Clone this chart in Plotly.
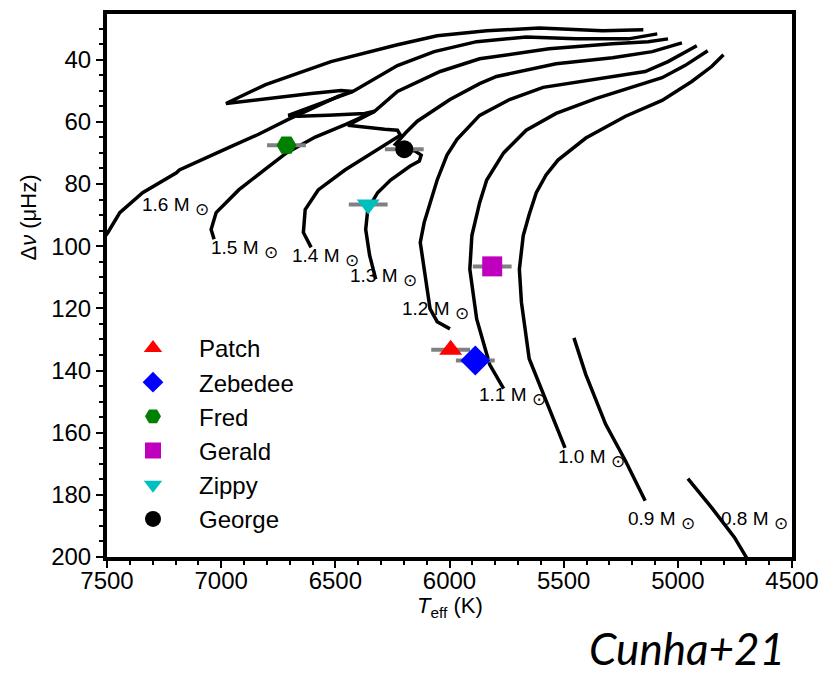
import plotly.graph_objects as go

# Evolutionary tracks: effective temperature (K) and large frequency separation (uHz)
masses = ["1.6", "1.5", "1.4", "1.3", "1.2", "1.1", "1.0", "0.9", "0.8"]

teff_16 = [7539, 7496, 7444, 7344, 7196, 7183, 6953, 6836, 6706, 6575, 6488, 6423,
           6475, 6606, 6805, 6979, 6805, 6519, 6228, 6054, 5837, 5607, 5329, 5151]
dnu_16 = [100.1, 95.6, 89.2, 82.8, 76.4, 75.5, 67.8, 64.0, 59.2, 54.7, 51.8, 50.2,
          49.9, 50.9, 52.5, 54.1, 48.0, 40.6, 35.2, 32.3, 30.7, 29.8, 30.7, 30.4]

teff_15 = [7031, 7044, 7022, 6923, 6805, 6714, 6588, 6454, 6328, 6371, 6532, 6662,
           6706, 6575, 6423, 6228, 6067, 5881, 5664, 5446, 5216, 5090]
dnu_15 = [97.8, 94.6, 89.2, 81.9, 75.1, 70.0, 64.9, 60.8, 56.6, 57.3, 57.9, 58.2,
          57.9, 54.4, 50.2, 41.9, 37.4, 34.2, 32.7, 33.3, 33.3, 31.7]

teff_14 = [6606, 6640, 6632, 6575, 6458, 6328, 6241, 6215, 6228, 6284, 6445, 6328,
           6228, 6041, 5868, 5564, 5286, 5130, 5043]
dnu_14 = [100.4, 95.6, 88.2, 81.9, 75.5, 69.4, 65.6, 64.3, 62.7, 62.4, 61.1, 56.6,
          50.2, 43.8, 39.7, 36.5, 34.9, 34.2, 33.3]

teff_13 = [6323, 6350, 6367, 6358, 6315, 6258, 6172, 6132, 6124, 6150, 6198, 6237,
           6193, 6141, 5998, 5868, 5794, 5533, 5286, 5112, 4982]
dnu_13 = [110.6, 102.9, 94.6, 88.2, 82.8, 78.7, 74.2, 72.6, 70.7, 69.4, 68.8, 67.2,
          63.6, 59.8, 52.8, 47.7, 45.4, 41.3, 39.4, 37.4, 34.6]

teff_12 = [5998, 6054, 6085, 6111, 6128, 6111, 6085, 6054, 6011, 5967, 5868, 5737,
           5590, 5360, 5143, 5043, 4917]
dnu_12 = [126.6, 124.3, 120.2, 107.4, 98.8, 92.4, 86.0, 78.7, 70.7, 65.6, 57.9, 52.8,
          48.9, 46.4, 43.8, 40.6, 35.5]

teff_11 = [5763, 5824, 5881, 5911, 5902, 5868, 5837, 5763, 5664, 5533, 5360, 5216,
           5069, 4969, 4869]
dnu_11 = [145.8, 138.1, 123.4, 107.4, 96.6, 86.0, 78.7, 70.0, 62.7, 57.3, 52.5, 49.3,
          45.8, 41.9, 37.1]

teff_10 = [5494, 5577, 5651, 5685, 5694, 5677, 5651, 5620, 5577, 5525, 5403, 5229,
           5069, 4939, 4852, 4800]
dnu_10 = [164.9, 149.9, 136.2, 118.0, 107.4, 96.6, 89.8, 82.8, 77.1, 72.3, 65.2, 58.2,
          53.1, 47.0, 42.2, 38.4]

teff_09 = [5455, 5403, 5316, 5229, 5143]
dnu_09 = [129.5, 141.3, 157.3, 169.1, 181.9]

teff_08 = [4956, 4852, 4752, 4700, 4643]
dnu_08 = [174.8, 184.1, 193.7, 200.1, 204.9]

tracks_teff = [teff_16, teff_15, teff_14, teff_13, teff_12, teff_11, teff_10, teff_09, teff_08]
tracks_dnu = [dnu_16, dnu_15, dnu_14, dnu_13, dnu_12, dnu_11, dnu_10, dnu_09, dnu_08]

# Mass label anchor points (left edge of text)
label_teff = [7357, 7053, 6697, 6445, 6219, 5881, 5533, 5229, 4821]
label_dnu = [87.3, 101.0, 103.7, 110.1, 120.7, 148.2, 168.3, 188.4, 188.4]

# Observed stars
star_names = ["Patch", "Zebedee", "Fred", "Gerald", "Zippy", "George"]
star_teff = [5995, 5887, 6714, 5813, 6356, 6198]
star_dnu = [133.3, 136.8, 67.5, 106.5, 86.6, 68.8]
star_teff_err = [85, 85, 85, 85, 85, 85]
star_symbols = ["triangle-up", "diamond", "hexagon2", "square", "triangle-down", "circle"]
star_colors = ["#FF0000", "#0000FF", "#008000", "#BF00BF", "#00BFBF", "#000000"]
star_sizes = [20, 23, 20, 20, 20, 18]

FONT = "Liberation Sans, Arial, sans-serif"

fig = go.Figure()

for tx, dy in zip(tracks_teff, tracks_dnu):
    fig.add_trace(go.Scatter(x=tx, y=dy, mode="lines",
                             line=dict(color="black", width=3.5),
                             showlegend=False, hoverinfo="skip"))

for name, tx, dy, ex, sym, col, sz in zip(star_names, star_teff, star_dnu, star_teff_err,
                                           star_symbols, star_colors, star_sizes):
    fig.add_trace(go.Scatter(
        x=[tx], y=[dy], mode="markers", name=name, legendgroup=name,
        marker=dict(symbol=sym, color=col, size=sz, line=dict(width=0)),
        error_x=dict(type="constant", value=ex, color="#808080", thickness=4, width=0),
    ))

for m, lx, ly in zip(masses, label_teff, label_dnu):
    fig.add_annotation(x=lx, y=ly, xref="x", yref="y",
                       text=f'{m} M <sub><span style="font-size:17px">⊙</span></sub>',
                       showarrow=False, xanchor="left", yanchor="middle",
                       font=dict(family=FONT, size=19, color="black"))

axis_common = dict(showline=True, linecolor="black", linewidth=4, mirror=True,
                   ticks="outside", ticklen=7, tickwidth=2, tickcolor="black",
                   showgrid=False, zeroline=False,
                   tickfont=dict(family=FONT, size=24, color="black"))

fig.update_xaxes(range=[7500, 4500], tick0=4500, dtick=500, ticklabelstandoff=-8,
                 minor=dict(ticks="outside", dtick=100, ticklen=4, tickwidth=1.5,
                            tickcolor="black", showgrid=False),
                 **axis_common)
fig.update_yaxes(range=[200, 25.3], tick0=0, dtick=20,
                 minor=dict(ticks="outside", dtick=5, ticklen=4, tickwidth=1.5,
                            tickcolor="black", showgrid=False),
                 **axis_common)

fig.add_annotation(text="<i>T</i><sub>eff</sub> (K)", xref="paper", yref="paper",
                   x=0.5, y=-0.092, showarrow=False, xanchor="center", yanchor="middle",
                   font=dict(family=FONT, size=22, color="black"))
fig.add_annotation(text="Δ<i>ν</i> (μHz)", xref="paper", yref="paper",
                   x=-0.114, y=0.625, showarrow=False, textangle=-90,
                   xanchor="center", yanchor="middle",
                   font=dict(family=FONT, size=22, color="black"))
fig.add_annotation(text="<i>Cunha+21</i>", xref="paper", yref="paper",
                   x=0.993, y=-0.168, showarrow=False, xanchor="right", yanchor="middle",
                   font=dict(family="Lato, sans-serif", size=44, color="black"))

fig.update_layout(
    width=829, height=673,
    margin=dict(l=107, r=31, t=10, b=116),
    paper_bgcolor="white", plot_bgcolor="white",
    showlegend=True,
    legend=dict(x=0.0, y=0.4257, xanchor="left", yanchor="top",
                bgcolor="rgba(0,0,0,0)", borderwidth=0,
                itemwidth=82, tracegroupgap=0,
                font=dict(family=FONT, size=24, color="black")),
)

fig.write_html("out.html")
